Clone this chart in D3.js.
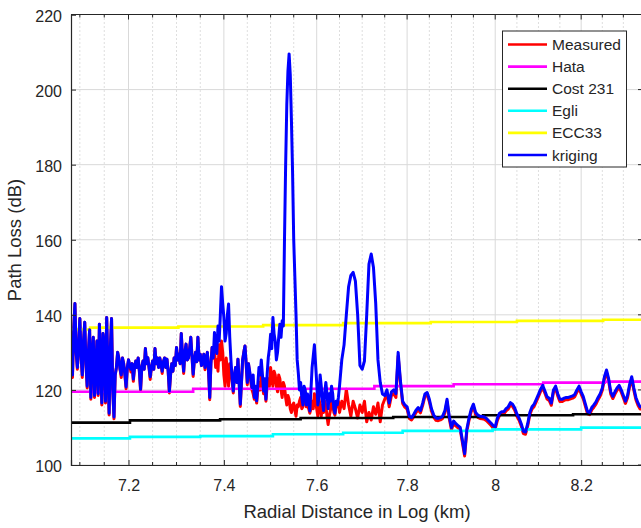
<!DOCTYPE html>
<html>
<head>
<meta charset="utf-8">
<script src="https://cdn.jsdelivr.net/npm/d3@7"></script>
<style>
  body { margin: 0; background: #fff; }
  svg text { font-family: "Liberation Sans", Arial, Helvetica, sans-serif; fill: #262626; }
</style>
</head>
<body>
<svg id="chart" width="641" height="528"></svg>
<script>
// Radial distance samples (log axis), finer spacing over the noisy stretch
const distance = [
  7.0800,7.0825,7.0850,7.0875,7.0900,7.0925,7.0950,7.0975,7.1000,7.1025,7.1050,7.1075,7.1100,7.1125,7.1150,7.1175,7.1200,7.1225,7.1250,7.1275,
  7.1300,7.1325,7.1350,7.1375,7.1400,7.1425,7.1450,7.1475,7.1500,7.1525,7.1550,7.1575,7.1600,7.1625,7.1650,7.1675,7.1700,7.1725,7.1750,7.1775,
  7.1800,7.1825,7.1850,7.1875,7.1900,7.1925,7.1950,7.1975,7.2000,7.2025,7.2050,7.2075,7.2100,7.2125,7.2150,7.2175,7.2200,7.2225,7.2250,7.2275,
  7.2300,7.2325,7.2350,7.2375,7.2400,7.2425,7.2450,7.2475,7.2500,7.2525,7.2550,7.2575,7.2600,7.2625,7.2650,7.2675,7.2700,7.2725,7.2750,7.2775,
  7.2800,7.2825,7.2850,7.2875,7.2900,7.2925,7.2950,7.2975,7.3000,7.3025,7.3050,7.3075,7.3100,7.3125,7.3150,7.3175,7.3200,7.3225,7.3250,7.3275,
  7.3300,7.3325,7.3350,7.3375,7.3400,7.3425,7.3450,7.3475,7.3500,7.3525,7.3550,7.3575,7.3600,7.3625,7.3650,7.3675,7.3700,7.3725,7.3750,7.3775,
  7.3800,7.3825,7.3850,7.3875,7.3900,7.3925,7.3950,7.3975,7.4000,7.4025,7.4050,7.4075,7.4100,7.4125,7.4150,7.4175,7.4200,7.4225,7.4250,7.4275,
  7.4300,7.4325,7.4350,7.4375,7.4400,7.4425,7.4450,7.4475,7.4500,7.4525,7.4550,7.4575,7.4600,7.4625,7.4650,7.4675,7.4700,7.4725,7.4750,7.4775,
  7.4800,7.4825,7.4850,7.4875,7.4900,7.4925,7.4950,7.4975,7.5000,7.5025,7.5050,7.5075,7.5100,7.5125,7.5150,7.5175,7.5200,7.5225,7.5250,7.5275,
  7.5300,7.5325,7.5350,7.5375,7.5400,7.5425,7.5450,7.5475,7.5500,7.5525,7.5550,7.5575,7.5600,7.5625,7.5650,7.5675,7.5700,7.5725,7.5750,7.5775,
  7.5800,7.5825,7.5850,7.5875,7.5900,7.5925,7.5950,7.5975,7.6000,7.6025,7.6050,7.6075,7.6100,7.6125,7.6150,7.6175,7.6200,7.6225,7.6250,7.6275,
  7.6300,7.6325,7.6350,7.6375,7.6400,7.6425,7.6450,7.6475,7.6500,
  7.655,7.660,7.665,7.670,7.675,7.680,7.685,7.690,7.695,7.700,
  7.705,7.710,7.715,7.720,7.725,7.730,7.735,7.740,7.745,7.750,
  7.755,7.760,7.765,7.770,7.775,7.780,7.785,7.790,7.795,7.800,
  7.805,7.810,7.815,7.820,7.825,7.830,7.835,7.840,7.845,7.850,
  7.855,7.860,7.865,7.870,7.875,7.880,7.885,7.890,7.895,7.900,
  7.905,7.910,7.915,7.920,7.925,7.930,7.935,7.940,7.945,7.950,
  7.955,7.960,7.965,7.970,7.975,7.980,7.985,7.990,7.995,8.000,
  8.005,8.010,8.015,8.020,8.025,8.030,8.035,8.040,8.045,8.050,
  8.055,8.060,8.065,8.070,8.075,8.080,8.085,8.090,8.095,8.100,
  8.105,8.110,8.115,8.120,8.125,8.130,8.135,8.140,8.145,8.150,
  8.155,8.160,8.165,8.170,8.175,8.180,8.185,8.190,8.195,8.200,
  8.205,8.210,8.215,8.220,8.225,8.230,8.235,8.240,8.245,8.250,
  8.255,8.260,8.265,8.270,8.275,8.280,8.285,8.290,8.295,8.300,
  8.305,8.310,8.315,8.320,8.325,8.330,8.335,8.340,8.345,8.350
];

// Measured path loss (dB)
const measured = [
  133,128,123.3,136,143,130,125.5,132,139,129,123.3,133,138,127,120.5,130,136,117.5,129,134,
  118,126,133,118.5,137.5,128,116,135,132,116.5,139.3,126,113.3,131,139,120,112.3,124,126,130,
  128.5,125.5,123.3,128.5,127,124,120.3,126,128,126.5,124.8,127,122.3,126,127.7,126,128.5,125,119.7,126,
  127.7,125.5,131,127,128.6,126,122.8,126,127.7,125.5,131,127,128.5,126,128.5,127,124.4,127.5,128.5,126,
  128.2,125,119.2,124,127,125,128.5,126.5,131.3,128,129.5,127,135,129,124.4,130,132.2,128,128.5,131,
  134,129,123.6,128,130,127.5,134,128,129.5,126.5,127.3,129.5,125.4,128,130,125,117.4,127,131.3,128.5,
  131,126,128,125,132,128,133,130,124,121,128.5,124.5,121,127,126,122.5,119.2,124,126,122,
  128.2,122,115.6,122,128,130,131.7,127,121.4,127,124.5,122,120,119,117.5,118.5,116.5,120,122,120,
  124,121,119,120.5,117,121,123,121,126,123,121,125,124,121,119.5,124,123,120,118,122,
  121,118,116,118.5,117.5,115,114,116,116.5,114.5,113,116,115.5,117,118,115,115.5,117.5,119.5,115.5,
  116,115,113.8,115,117,115,119,117,115,113,117.5,116,113,116,114,117,116,113,110.8,113,
  114.5,118,116.5,114,113.3,116,115.5,117,114,
  117,115,120.2,116,113,117,115,112.5,116,114,
  117,111.5,114,112,115.5,113.5,116.5,111.5,116,117.5,
  119,115.5,118.5,119,118,129,122,116.4,115.4,114.9,
  112.4,112,112.9,114,114.7,113.9,115.9,118.3,118.7,116.9,
  114.3,112.7,111.9,111.8,112,112.4,113.8,116.9,112.4,109.4,
  111.1,110.4,109.9,109.4,105.9,102.4,108.9,111.9,114.2,115.6,
  113.4,112.7,112.4,112.3,112.2,111.8,111.2,110.6,109.9,109.6,
  111.9,113.2,113.6,113.6,114.4,114.9,116,115.6,114.6,113,
  111.9,110.4,108.4,108.2,110.4,113.4,114.9,115.6,116.9,118.2,
  119.6,120.6,119.1,117.6,117.2,115.9,119.4,120.4,118.4,116.9,
  116.9,117.2,117.4,117.4,117.6,117.8,118.2,119.4,120.4,118.9,
  117.6,115.6,113.6,113.4,114.7,115.4,116.2,117.4,118.4,119.9,
  122.9,124.7,122.4,118.9,117.7,118.9,119.9,120.6,119.4,117.9,
  116.4,117.9,120.9,122.9,119.9,117.4,115.9,114.9,114.9,114.9
];

// Kriging estimate (dB)
const kriging = [
  133,128,124,136,143,130,126,132,139,129,124,133,138,127,121,130,136,118,129,134,
  118.5,126,133,119,137.5,128,116.5,135,132,117,139.3,126,113.8,131,139,120,112.8,124,126,130,
  128.5,125.5,124,128.5,127,124,120.8,126,128,126.5,125.5,127,122.9,126,127.7,126,128.5,125,120.2,126,
  127.7,125.5,131,127,128.6,126,123.5,126,127.7,125.5,131,127,128.5,126,128.5,127,125,127.5,128.5,126,
  128.2,125,119.7,124,127,125,128.5,126.5,131.3,128,129.5,127,135,129,125,130,132.2,128,128.5,131,
  134,129,124.2,128,130,127.5,134,128,129.5,126.5,127.3,129.5,126,128,130,125,118,127,131.3,128.5,
  135.3,131,129.7,137,133,140,147.5,143,139.3,133,135,140,142.9,134,128,123,119.7,124,126,122,
  128.2,122,116.2,122,128,130,131.7,127,122,127,125,123,120.6,124,118,121,117.1,121.5,126,124,
  128,124,119.7,123,117.5,124,128.6,131,134.8,131,139.3,135,133,128,130,134,137.5,134,138.4,137,
  160,180,196,205,209.5,204,192,178,160,150,140,128,124.5,120,122,118,116,121,120,116,
  118.9,117,114.4,120,126,129,132,127,122,116,118,124,121,117,114.5,119,122,119,115,119,
  117,121,119,115,113.8,117,116,118,121,
  128,132,140,147.5,150.5,151.3,149,140,126.5,125.5,
  127.7,140,153.5,156.2,152.6,143,128,122,118.9,118.5,
  120,116.5,119.5,120,119,130,122.5,117,116,115.5,
  113,112.6,113.5,114.6,115.3,114.5,116.5,118.9,119.3,117.5,
  114.9,113.3,112.5,112.4,112.6,113,114.4,117.5,113,110,
  111.7,111,110.5,110,106.5,103,109.5,112.5,114.8,116.2,
  114,113.3,113,112.9,112.8,112.4,111.8,111.2,110.5,110.2,
  112.5,113.8,114.2,114.2,115,115.5,116.6,116.2,115.2,113.6,
  112.5,111,109,108.8,111,114,115.5,116.2,117.5,118.8,
  120.2,121.2,119.7,118.2,117.8,116.5,120,121,119,117.5,
  117.5,117.8,118,118,118.2,118.4,118.8,120,121,119.5,
  118.2,116.2,114.2,114,115.3,116,116.8,118,119,120.5,
  123.5,125.3,123,119.5,118.3,119.5,120.5,121.2,120,118.5,
  117,118.5,121.5,123.5,120.5,118,116.5,115.5,115.5,115.5
];

// Empirical model curves: breakpoints (km, log axis) and levels (dB)
const hataDist   = [7.082, 7.335, 7.727, 7.905, 8.111, 8.256];
const hataLoss   = [119.5, 120.3, 121.0, 121.5, 121.95, 122.2];
const costDist   = [7.082, 7.203, 7.392, 7.565, 7.769, 7.972, 8.181];
const costLoss   = [111.3, 111.9, 112.2, 112.5, 112.8, 113.25, 113.5];
const egliDist   = [7.082, 7.203, 7.350, 7.505, 7.658, 7.790, 7.994, 8.200];
const egliLoss   = [107.1, 107.5, 107.7, 108.2, 108.6, 109.1, 109.5, 109.95];
const ecc33Dist  = [7.082, 7.121, 7.304, 7.484, 7.658, 7.853, 8.050, 8.252];
const ecc33Loss  = [136.1, 136.6, 136.9, 137.25, 137.8, 138.1, 138.4, 138.7];

// Axis ticks
const xMajorTicks = [7.2, 7.4, 7.6, 7.8, 8, 8.2];
const xMinorTicks = [7.1, 7.15, 7.25, 7.3, 7.35, 7.45, 7.5, 7.55, 7.65, 7.7, 7.75, 7.85, 7.9, 7.95, 8.05, 8.1, 8.15, 8.25, 8.3];
const yTicks = [100, 120, 140, 160, 180, 200, 220];

const seriesNames  = ["Measured", "Hata", "Cost 231", "Egli", "ECC33", "kriging"];
const seriesColors = ["#ff0000", "#ff00ff", "#000000", "#00ffff", "#ffff00", "#0000ff"];

// ---------------------------------------------------------------
const svg = d3.select("#chart");
const plot = { left: 71, right: 643, top: 14.5, bottom: 465 };
const xMin = 7.082, xMax = 8.347;

const x = d3.scaleLog().domain([xMin, xMax]).range([plot.left, plot.right]);
const y = d3.scaleLinear().domain([100, 220]).range([plot.bottom, plot.top]);

svg.append("defs").append("clipPath").attr("id", "plotClip")
  .append("rect")
  .attr("x", plot.left).attr("y", plot.top)
  .attr("width", plot.right - plot.left).attr("height", plot.bottom - plot.top);

// grid
const grid = svg.append("g");
grid.selectAll(".minor").data(xMinorTicks).join("line")
  .attr("x1", d => x(d)).attr("x2", d => x(d))
  .attr("y1", plot.top).attr("y2", plot.bottom)
  .attr("stroke", "#bdbdbd").attr("stroke-width", 1).attr("stroke-dasharray", "1,3");
grid.selectAll(".major").data(xMajorTicks).join("line")
  .attr("x1", d => x(d)).attr("x2", d => x(d))
  .attr("y1", plot.top).attr("y2", plot.bottom)
  .attr("stroke", "#d9d9d9").attr("stroke-width", 1);
grid.selectAll(".hmajor").data(yTicks).join("line")
  .attr("x1", plot.left).attr("x2", plot.right)
  .attr("y1", d => y(d)).attr("y2", d => y(d))
  .attr("stroke", "#d9d9d9").attr("stroke-width", 1);

// data
const gData = svg.append("g").attr("clip-path", "url(#plotClip)");
const line = d3.line().x(d => x(d[0])).y(d => y(d[1]));
const stepLine = d3.line().x(d => x(d[0])).y(d => y(d[1])).curve(d3.curveStepAfter);

const measuredPts = distance.map((d, i) => [d, measured[i]]);
const krigingPts  = distance.map((d, i) => [d, kriging[i]]);
const stepPts = (ds, vs) => ds.map((d, i) => [d, vs[i]]).concat([[xMax, vs[vs.length - 1]]]);

gData.append("path").datum(measuredPts).attr("d", line)
  .attr("fill", "none").attr("stroke", seriesColors[0]).attr("stroke-width", 3).attr("stroke-linejoin", "round");
[[hataDist, hataLoss, 1], [costDist, costLoss, 2], [egliDist, egliLoss, 3], [ecc33Dist, ecc33Loss, 4]]
  .forEach(([ds, vs, k]) => {
    gData.append("path").datum(stepPts(ds, vs)).attr("d", stepLine)
      .attr("fill", "none").attr("stroke", seriesColors[k]).attr("stroke-width", 2.6);
  });
gData.append("path").datum(krigingPts).attr("d", line)
  .attr("fill", "none").attr("stroke", seriesColors[5]).attr("stroke-width", 3).attr("stroke-linejoin", "round");

// axes (ticks point inward)
const axisColor = "#262626";
const xAxis = svg.append("g").attr("transform", `translate(0,${plot.bottom})`)
  .call(d3.axisBottom(x).tickValues(xMajorTicks).tickFormat(d3.format("")).tickSize(-5).tickPadding(15));
const yAxis = svg.append("g").attr("transform", `translate(${plot.left},0)`)
  .call(d3.axisLeft(y).tickValues(yTicks).tickSize(-5).tickPadding(9));
[xAxis, yAxis].forEach(a => {
  a.select(".domain").attr("stroke", axisColor).attr("stroke-width", 1.2);
  a.selectAll(".tick line").attr("stroke", axisColor);
  a.selectAll("text").style("font-size", "16px").attr("fill", axisColor)
    .style("font-family", "'Liberation Sans', Arial, sans-serif");
});
yAxis.selectAll("text").attr("dy", "0.42em");

// minor ticks on bottom and top edges, ticks on the right edge
const ticksG = svg.append("g").attr("stroke", axisColor);
ticksG.selectAll(".mb").data(xMinorTicks).join("line")
  .attr("x1", d => x(d)).attr("x2", d => x(d)).attr("y1", plot.bottom).attr("y2", plot.bottom - 3);
ticksG.selectAll(".mt").data(xMinorTicks).join("line")
  .attr("x1", d => x(d)).attr("x2", d => x(d)).attr("y1", plot.top).attr("y2", plot.top + 3);
ticksG.selectAll(".Mt").data(xMajorTicks).join("line")
  .attr("x1", d => x(d)).attr("x2", d => x(d)).attr("y1", plot.top).attr("y2", plot.top + 5);
ticksG.selectAll(".yr").data(yTicks).join("line")
  .attr("x1", plot.right).attr("x2", plot.right - 5).attr("y1", d => y(d)).attr("y2", d => y(d));
svg.append("line").attr("x1", plot.left).attr("x2", plot.right).attr("y1", plot.top).attr("y2", plot.top)
  .attr("stroke", axisColor).attr("stroke-width", 1.2);
svg.append("line").attr("x1", plot.right).attr("x2", plot.right).attr("y1", plot.top).attr("y2", plot.bottom)
  .attr("stroke", axisColor).attr("stroke-width", 1.2);

// axis titles
svg.append("text").attr("x", 357).attr("y", 518).attr("text-anchor", "middle")
  .style("font-size", "18.5px").text("Radial Distance in Log (km)");
svg.append("text").attr("transform", "translate(21,240) rotate(-90)").attr("text-anchor", "middle")
  .style("font-size", "18.5px").text("Path Loss (dB)");

// legend
const lg = svg.append("g");
lg.append("rect").attr("x", 502.5).attr("y", 31).attr("width", 124).attr("height", 136)
  .attr("fill", "#fff").attr("stroke", "#262626").attr("stroke-width", 1);
seriesNames.forEach((name, i) => {
  const cy = 44.5 + i * 22.1;
  lg.append("line").attr("x1", 508).attr("x2", 547).attr("y1", cy).attr("y2", cy)
    .attr("stroke", seriesColors[i]).attr("stroke-width", 2.6);
  lg.append("text").attr("x", 552).attr("y", cy).attr("dy", "0.36em")
    .style("font-size", "15.5px").text(name);
});
</script>
</body>
</html>
